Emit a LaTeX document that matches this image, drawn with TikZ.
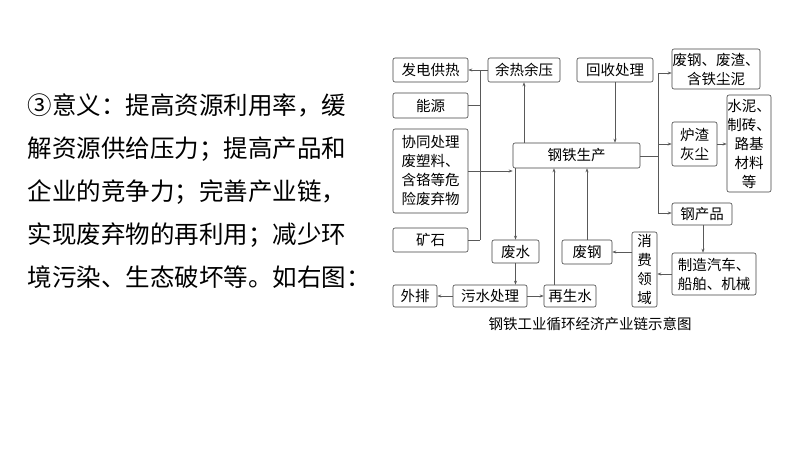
\documentclass[tikz,border=0pt]{standalone}
\usepackage{fontspec}
\setmainfont{Noto Sans CJK SC}
\usetikzlibrary{arrows.meta}
\begin{document}
\begin{tikzpicture}[x=1pt,y=-1pt,
  box/.style={draw=black!75,rounded corners=2pt,line width=0.6pt,inner sep=0pt,align=center,font=\fontsize{14.5}{19}\selectfont},
  ln/.style={draw=black!65,line width=0.6pt},
  ar/.style={ln,-{Stealth[length=4pt,width=3pt]}}]
\useasboundingbox (0,0) rectangle (800,450);
\node[anchor=north west,align=left,font=\fontsize{24.5}{43}\selectfont] (txt) at (24,90) {③意义：提高资源利用率，缓\\解资源供给压力；提高产品和\\企业的竞争力；完善产业链，\\实现废弃物的再利用；减少环\\境污染、生态破坏等。如右图：};
\newcommand\bx[6]{\node[box,minimum width=#4-#2,minimum height=#5-#3] (#1) at ({(#2+#4)/2},{(#3+#5)/2}) {#6};}
\bx{fd}{393}{58}{468}{82}{发电供热}
\bx{yr}{488}{58}{560}{82}{余热余压}
\bx{hs}{577}{58}{653}{82}{回收处理}
\bx{fg}{672}{49}{760}{89}{废钢、废渣、\\含铁尘泥}
\bx{ny}{393}{93}{468}{118}{能源}
\bx{xt}{393}{129}{468}{213}{协同处理\\废塑料、\\含铬等危\\险废弃物}
\bx{ks}{393}{228}{468}{252}{矿石}
\bx{gt}{513}{143}{640}{168}{钢铁生产}
\bx{lz}{672}{122}{717}{166}{炉渣\\灰尘}
\bx{sn}{727}{95}{771}{192}{水泥、\\制砖、\\路基\\材料\\等}
\bx{gc}{672}{203}{732}{225}{钢产品}
\bx{fs}{492}{240}{539}{263}{废水}
\bx{fg2}{562}{240}{612}{264}{废钢}
\bx{xf}{632}{232}{657}{307}{消\\费\\领\\域}
\bx{zz}{672}{253}{756}{295}{制造汽车、\\船舶、机械}
\bx{wp}{393}{285}{437}{307}{外排}
\bx{ws}{453}{285}{527}{307}{污水处理}
\bx{zs}{544}{285}{596}{307}{再生水}
\node[font=\fontsize{14.5}{17}\selectfont] (cap) at (590,324) {钢铁工业循环经济产业链示意图};
% left bus
\coordinate (lb1) at (480,70);
\coordinate (lb2) at (480,240);
\draw[ln] (lb1) -- (lb2);
\draw[ar] (yr.west) -- (fd.east);
\draw[ln] (ny.east) -- (ny.east -| lb1);
\draw[ln] (ks.east) -- (ks.east -| lb1);
\draw[ar] (xt.east) -- (gt.west |- xt.east);
\draw[ar] (gt.north -| yr) -- (yr.south);
\draw[ar] (hs.south) -- (hs.south |- gt.north);
% right bus
\coordinate (rb1) at (658,73);
\coordinate (rb2) at (658,213);
\draw[ln] (rb1) -- (rb2);
\draw[ln] (gt.east |- 0,156) -- (rb1 |- 0,156);
\draw[ar] (rb1 |- lz.west) -- (lz.west);
\draw[ar] (rb1) -- (fg.west |- rb1);
\draw[ar] (rb2) -- (gc.west |- rb2);
\draw[ar] (lz.east) -- (sn.west |- lz.east);
\draw[ar] (gc.south -| 703,0) -- (zz.north -| 703,0);
\draw[ar] (zz.west) -- (xf.east |- zz.west);
\draw[ar] (xf.east |- fg2.east) ++(-25,0) -- (fg2.east);
\draw[ar] (fg2.north) -- (fg2.north |- gt.south);
\draw[ar] (gt.south -| fs) -- (fs.north);
\draw[ar] (fs.south) -- (fs.south |- ws.north);
\draw[ar] (ws.west) -- (wp.east);
\draw[ar] (ws.east) -- (zs.west);
\draw[ar] (zs.north -| 554,0) -- (gt.south -| 554,0);
\end{tikzpicture}
\end{document}
